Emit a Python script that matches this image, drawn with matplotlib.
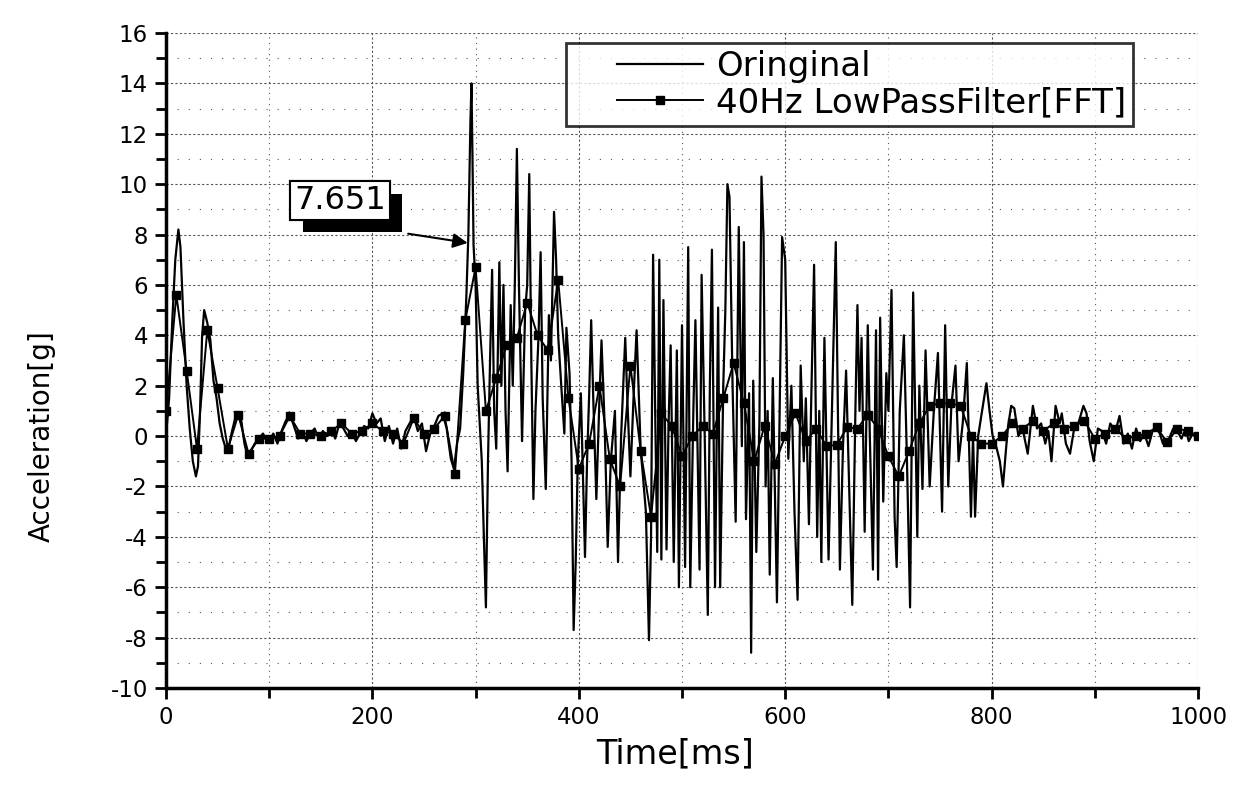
import matplotlib
matplotlib.use('Agg')
import matplotlib.pyplot as plt
import matplotlib.patheffects as pe
from matplotlib.ticker import MultipleLocator
from matplotlib.legend_handler import HandlerLine2D

plt.rcParams['axes.unicode_minus'] = False

# original signal (time ms, acceleration g)
t_orig = [0, 3, 6, 9, 12, 14, 17, 20, 23, 26, 29, 31, 33, 35, 37, 40, 43, 46, 49, 52,
          55, 58, 61, 64, 67, 70, 73, 76, 79, 82, 86, 90, 94, 98,
          100, 104, 108, 112, 116, 120, 124, 128, 132, 136, 140, 144, 148, 152, 156, 160,
          164, 168, 172, 176, 180, 184, 188, 192, 196, 200, 204, 208, 212, 216, 220, 224,
          228, 232, 236, 240, 244, 248, 252, 256, 260, 264, 268, 272, 276, 279, 282, 285,
          288, 291, 293, 295, 296, 297, 298, 300, 302, 304, 306, 308, 310, 312, 314, 316,
          318, 320, 323, 325, 327, 329, 331, 334, 336, 338, 340, 342, 345, 348, 350, 352,
          354, 356, 358, 361, 363, 365, 368, 371, 373, 376, 378, 380, 383, 386, 388, 391,
          393, 395, 397, 399, 402, 404, 406, 408, 410, 412, 414, 417, 420, 422, 425, 428,
          431, 435, 438, 441, 445, 447, 450, 453, 456, 460, 462, 465, 468, 470, 472, 474,
          476, 478, 480, 482, 485, 487, 489, 492, 495, 497, 500, 503, 506, 508, 511, 513,
          517, 519, 522, 525, 527, 529, 532, 535, 537, 540, 542, 544, 546, 549, 552, 555,
          558, 560, 562, 565, 567, 569, 572, 575, 577, 579, 581, 583, 585, 588, 592, 595,
          597, 600, 603, 606, 609, 612, 615, 618, 620, 623, 625, 628, 631, 633, 635, 638,
          642, 645, 649, 653, 656, 659, 662, 665, 668, 670, 672, 674, 677, 680, 682, 685,
          688, 690, 692, 695, 698, 700, 703, 706, 708, 711, 715, 718, 721, 724, 728, 730,
          733, 736, 740, 744, 748, 752, 755, 758, 761, 765, 768, 772, 776, 780, 782, 784,
          787, 790, 795, 798, 801, 805, 808, 811, 814, 816, 819, 822, 826, 830, 835, 840,
          844, 848, 852, 855, 858, 862, 866, 868, 872, 876, 880, 884, 889, 892, 895, 899,
          903, 907, 911, 915, 920, 924, 928, 932, 936, 940, 944, 948, 952, 956, 959, 963,
          966, 969, 973, 976, 980, 984, 988, 991, 995, 999]
a_orig = [0.0, 1.5, 4.5, 7.0, 8.2, 7.5, 4.5, 2.0, 0.3, -1.0, -1.6, -1.2, 1.0, 4.0, 5.0, 4.5, 3.8, 2.2, 1.5, 0.5,
          -0.1, -0.5, -0.4, 0.2, 0.7, 0.9, 0.6, -0.3, -0.8, -0.6, -0.3, -0.1, 0.1, -0.2,
          -0.2, 0.1, -0.3, 0.2, 0.6, 0.85, 0.4, -0.1, 0.2, -0.2, 0.1, 0.3, -0.1, 0.2, 0.0, 0.3,
          -0.1, 0.5, 0.3, 0.0, 0.2, -0.2, 0.1, 0.4, 0.3, 0.9, 0.5, 0.7, -0.2, 0.4, -0.3, 0.3,
          -0.5, 0.2, 0.5, 0.8, 0.2, 0.5, -0.6, 0.1, 0.4, 0.8, 0.9, 0.3, -0.9, -1.3, -0.3, 0.3,
          2.5, 5.5, 8.0, 12.5, 14.0, 11.0, 7.6, 6.0, 2.0, 0.5, -1.0, -4.0, -6.8, -1.0, 3.0, 6.6,
          1.0, -0.5, 6.9, 2.0, 6.0, 1.0, -1.4, 5.2, 2.0, 6.0, 11.4, 6.0, -0.2, 5.0, 6.0, 10.4,
          3.0, -2.5, 1.0, 4.0, 7.3, 1.5, -2.1, 4.8, 3.0, 8.9, 7.0, 4.0, 2.0, 0.1, 4.3, 2.5,
          -1.0, -7.7, -5.0, -1.0, 1.7, -1.5, -4.8, -1.0, 1.6, 4.6, 1.5, -2.5, 1.5, 3.8, 0.5, -4.4,
          -1.0, 1.0, -5.0, 0.0, 3.9, 1.5, -1.6, 1.5, 4.2, -0.6, -1.5, -3.0, -8.1, -4.0, 7.2, 1.0,
          -4.6, 7.0, -4.9, 5.4, -4.5, 0.5, 3.6, -5.0, 3.4, -6.0, 4.4, -5.2, 7.5, -6.0, 1.0, 4.6,
          -5.3, 6.4, 0.0, -7.1, 2.0, 7.4, -6.0, 5.1, -6.0, 2.0, 5.0, 10.0, 9.5, 2.0, -3.4, 8.3,
          -0.4, 7.7, -3.3, 1.7, -8.6, 2.2, -4.6, 0.5, 10.3, 8.0, -2.0, 1.0, -5.5, 2.3, -6.6, 2.0,
          7.9, 7.0, -0.9, 2.0, -3.0, -6.5, 2.8, -1.0, 1.5, -3.5, 1.0, 6.8, -4.0, 1.0, -5.0, 3.9,
          -4.9, 0.5, 7.7, -5.3, -0.4, 2.6, -2.0, -6.7, 1.0, 5.2, 1.0, 3.9, -3.8, 4.4, 0.0, -5.3,
          4.2, -5.7, 4.7, -2.6, 2.5, 1.0, 5.8, -3.2, -5.2, 1.0, 4.0, -1.0, -6.8, 5.7, -4.0, 2.0,
          -2.1, 3.4, -2.0, 1.0, 3.3, -3.0, 4.4, -2.0, 1.2, 2.8, -1.0, 0.5, 2.9, -3.2, 0.0, -3.2,
          0.0, 0.8, 2.1, 1.0, 0.0, -0.5, -1.0, -2.0, -0.5, 0.4, 1.2, 1.1, 0.0, 0.3, -0.7, 1.2,
          0.3, 0.5, -0.3, 0.2, -1.0, 1.2, 0.5, 0.9, -0.3, -0.7, 0.3, 0.5, 1.2, 0.9, -0.2, -1.0,
          0.3, 0.2, -0.3, 0.5, 0.2, 0.8, -0.3, 0.1, -0.5, 0.3, -0.2, 0.1, -0.4, 0.2, 0.35, 0.1,
          -0.3, -0.35, 0.0, 0.3, 0.2, -0.1, 0.3, -0.2, 0.1, -0.1]

# 40Hz low-pass filtered signal, one sample every 10 ms
t_filt = list(range(0, 1001, 10))
a_filt = [1.0, 5.6, 2.6, -0.5, 4.2, 1.9, -0.5, 0.85, -0.7, -0.1,
          -0.1, 0.0, 0.8, 0.1, 0.1, 0.0, 0.2, 0.5, 0.1, 0.2,
          0.5, 0.2, 0.1, -0.3, 0.7, 0.1, 0.3, 0.8, -1.5, 4.6,
          6.7, 1.0, 2.3, 3.6, 3.9, 5.3, 4.0, 3.4, 6.2, 1.5,
          -1.3, -0.3, 2.0, -0.9, -2.0, 2.8, -0.6, -3.2, 0.9, 0.4,
          -0.8, 0.0, 0.4, 0.1, 1.5, 2.9, 1.3, -1.0, 0.4, -1.1,
          0.0, 0.9, -0.2, 0.3, -0.4, -0.35, 0.35, 0.3, 0.85, 0.3,
          -0.8, -1.6, -0.6, 0.5, 1.2, 1.3, 1.3, 1.2, 0.0, -0.3,
          -0.3, 0.0, 0.5, 0.3, 0.6, 0.2, 0.5, 0.3, 0.4, 0.6,
          -0.1, 0.1, 0.3, -0.1, 0.0, 0.1, 0.35, -0.25, 0.3, 0.2,
          0.0]

peak_label = '7.651'
peak_t, peak_a = 295, 7.651

fig = plt.figure(figsize=(12.5, 7.86), dpi=100)
ax = fig.add_axes([0.1328, 0.1247, 0.8256, 0.8333])

ax.plot(t_orig, a_orig, color='k', lw=1.6, label='Oringinal', zorder=3)
ax.plot(t_filt, a_filt, color='k', lw=1.4, marker='s', ms=5.5, label='40Hz LowPassFilter[FFT]', zorder=4)

ax.set_xlim(0, 1000)
ax.set_ylim(-10, 16)
ax.xaxis.set_major_locator(MultipleLocator(200))
ax.xaxis.set_minor_locator(MultipleLocator(100))
ax.yaxis.set_major_locator(MultipleLocator(2))
ax.yaxis.set_minor_locator(MultipleLocator(1))

ax.grid(which='major', color='#555555', ls=(0, (2, 2)), lw=0.8)
ax.grid(which='minor', axis='y', color='#555555', ls=(0, (1, 9)), lw=0.8)
ax.grid(which='minor', axis='x', color='#555555', ls=(0, (1, 4)), lw=0.8)

for s in ['top', 'right']:
    ax.spines[s].set_visible(False)
for s in ['left', 'bottom']:
    ax.spines[s].set_linewidth(2.5)

ax.tick_params(which='major', direction='out', length=8, width=2, labelsize=16.5, pad=5)
ax.tick_params(which='minor', direction='out', length=7, width=2)

ax.set_xlabel('Time[ms]', fontsize=24)
ax.xaxis.set_label_coords(0.493, -0.075)
ax.set_ylabel('Acceleration[g]', fontsize=20)
ax.yaxis.set_label_coords(-0.107, 0.385)

leg = ax.legend(loc='upper left', bbox_to_anchor=(0.388, 0.985), borderaxespad=0,
                fontsize=24.5, frameon=True, fancybox=False, handlelength=3.8,
                handletextpad=0.4, borderpad=0.2, labelspacing=0.1,
                handler_map={matplotlib.lines.Line2D: HandlerLine2D(xpad=1.3)})
leg.get_frame().set_edgecolor('k')
leg.get_frame().set_linewidth(2)

txt = ax.text(168.6, 9.35, peak_label, fontsize=23, ha='center', va='center', zorder=6,
              bbox=dict(boxstyle='square,pad=0.12', fc='white', ec='k', lw=1.5))
txt.get_bbox_patch().set_path_effects([
    pe.withSimplePatchShadow(offset=(9, -9), shadow_rgbFace='k', alpha=1.0), pe.Normal()])
ax.annotate('', xy=(peak_t, peak_a), xytext=(232, 8.05),
            arrowprops=dict(arrowstyle='-|>', color='k', lw=1.5, mutation_scale=22), zorder=6)

fig.savefig('out.png', dpi=100)
